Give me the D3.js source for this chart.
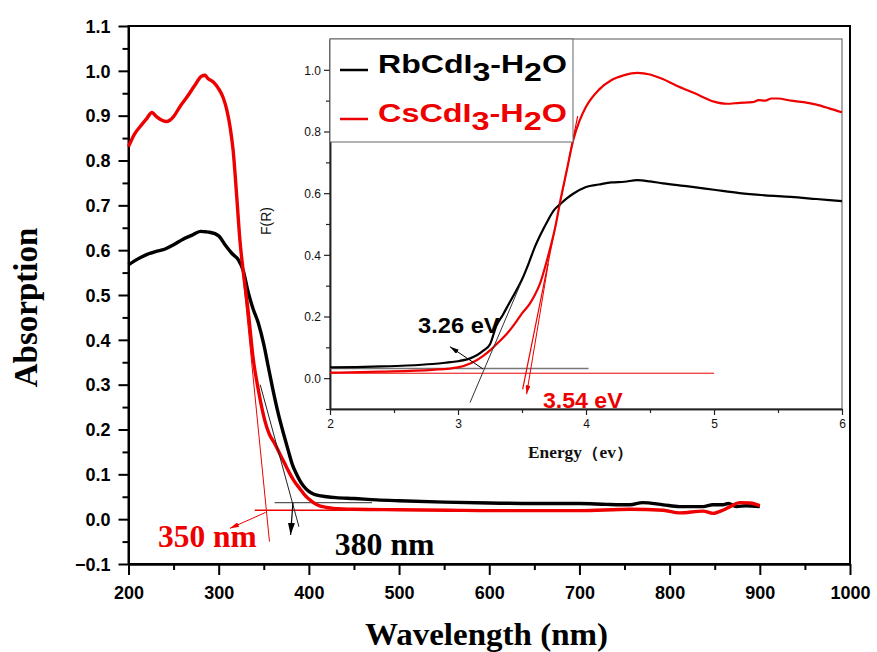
<!DOCTYPE html>
<html><head><meta charset="utf-8">
<script src="https://cdn.jsdelivr.net/npm/d3@7"></script>
<style>body{margin:0;background:#fff}svg{display:block}</style>
</head><body>
<svg id="chart" width="877" height="652"></svg>
<script>
// ---------------- DATA ----------------
const rbWavelength = [200,210,220,230,240,250,260,270,280,285,290,300,307,315,322,327,333,338,344,350,355,360,366,372,377,382,386,390,394,400,405,410,420,430,450,475,500,550,600,650,700,730,756,770,793,811,837,848,859,865,874,885,900];
const rbAbs = [0.567,0.580,0.590,0.597,0.602,0.612,0.624,0.633,0.642,0.641,0.640,0.632,0.612,0.592,0.578,0.556,0.504,0.47,0.437,0.39,0.34,0.29,0.236,0.19,0.154,0.12,0.102,0.086,0.074,0.062,0.056,0.053,0.050,0.048,0.046,0.043,0.041,0.038,0.036,0.035,0.035,0.033,0.032,0.037,0.032,0.028,0.028,0.032,0.032,0.035,0.028,0.030,0.028];
const csWavelength = [200,207,213,220,226,231,236,242,250,257,265,273,281,285,288,294,300,305,309,313,316,320,323.5,327,333,338,344,351,356,362,368,373,378,383,390,395,400,409,420,427,450,500,556,600,650,700,756,793,811,837,848,859,867,878,889,900];
const csAbs = [0.831,0.860,0.876,0.893,0.907,0.898,0.891,0.887,0.898,0.920,0.942,0.966,0.988,0.990,0.983,0.975,0.960,0.940,0.913,0.870,0.823,0.72,0.623,0.556,0.459,0.362,0.288,0.221,0.19,0.169,0.145,0.125,0.105,0.087,0.068,0.055,0.045,0.032,0.026,0.024,0.022,0.021,0.020,0.019,0.019,0.019,0.022,0.020,0.014,0.018,0.013,0.020,0.028,0.037,0.036,0.030];

const rbEnergy = [2.0,2.2,2.4,2.6,2.8,2.9,3.0,3.1,3.15,3.2,3.25,3.3,3.35,3.4,3.45,3.5,3.55,3.6,3.65,3.7,3.75,3.8,3.85,3.9,4.0,4.1,4.2,4.3,4.4,4.5,4.6,4.8,5.0,5.2,5.4,5.6,5.8,6.0];
const rbFR = [0.035,0.036,0.038,0.041,0.046,0.050,0.055,0.065,0.075,0.090,0.11,0.17,0.205,0.243,0.28,0.32,0.37,0.425,0.47,0.51,0.545,0.565,0.583,0.598,0.62,0.628,0.635,0.637,0.642,0.638,0.632,0.622,0.611,0.600,0.593,0.588,0.581,0.574];
const csEnergy = [2.0,2.4,2.8,3.0,3.1,3.2,3.25,3.3,3.38,3.45,3.5,3.56,3.6,3.64,3.7,3.76,3.8,3.85,3.9,3.95,4.0,4.1,4.2,4.3,4.4,4.5,4.6,4.7,4.85,5.0,5.1,5.2,5.3,5.35,5.4,5.45,5.5,5.6,5.7,5.8,5.9,6.0];
const csFR = [0.018,0.021,0.027,0.035,0.048,0.073,0.09,0.11,0.143,0.18,0.21,0.241,0.27,0.306,0.39,0.49,0.577,0.674,0.772,0.835,0.88,0.935,0.967,0.983,0.99,0.985,0.97,0.95,0.924,0.897,0.89,0.893,0.895,0.902,0.90,0.907,0.907,0.90,0.895,0.887,0.875,0.862];

const mainXTicks = [200,300,400,500,600,700,800,900,1000];
const mainYTicks = [-0.1,0.0,0.1,0.2,0.3,0.4,0.5,0.6,0.7,0.8,0.9,1.0,1.1];
const insetXTicks = [2,3,4,5,6];
const insetYTicks = [0.0,0.2,0.4,0.6,0.8,1.0];
const seriesNames = ["RbCdI3-H2O","CsCdI3-H2O"];
const seriesColors = ["#000000","#ee0000"];

// tangent / baseline construction lines (data units)
const mainRedBase = [[340,0.020],[480,0.020]];
const mainRedTangent = [[323.2,0.62],[356.3,-0.05]];
const mainRedArrow = [[352,0.015],[312.5,-0.0205]];
const mainBlackBase = [[362,0.0367],[470,0.0367]];
const mainBlackTangent = [[346,0.30],[389,-0.017]];
const mainBlackArrow = [[382.3,0.0367],[379.7,-0.035]];
const insetGrayBase = [[2,0.031],[4.02,0.031]];
const insetRedBase = [[2,0.016],[5.0,0.016]];
const insetBlackTangent = [[3.094,-0.079],[3.49,0.307]];
const insetRedTangent = [[3.505,-0.036],[3.935,0.85]];
const insetRedArrow = [[3.705,0.371],[3.536,-0.052]];
const insetBlackArrow = [[3.195,0.030],[2.9375,0.102]];

// ---------------- DRAW ----------------
const svg = d3.select("#chart");
const SANS = "'Liberation Sans', Arial, sans-serif";
const SERIF = "'Liberation Serif', 'Times New Roman', serif";

const defs = svg.append("defs");
function marker(id, color, w, h){
  defs.append("marker").attr("id",id).attr("viewBox",`0 0 ${w} ${h}`)
    .attr("refX",w).attr("refY",h/2).attr("markerWidth",w).attr("markerHeight",h)
    .attr("markerUnits","userSpaceOnUse").attr("orient","auto")
    .append("path").attr("d",`M0,0L${w},${h/2}L0,${h}Z`).attr("fill",color);
}
marker("arrBlackBig","#000",12,7);
marker("arrBlack","#000",9,5);
marker("arrRed","#ee0000",9,5);

// main scales
const x = d3.scaleLinear().domain([200,1000]).range([128.5,850]);
const y = d3.scaleLinear().domain([-0.1,1.1]).range([564,26]);

// frame
svg.append("rect").attr("x",x(200)).attr("y",y(1.1)).attr("width",x(1000)-x(200)).attr("height",y(-0.1)-y(1.1))
  .attr("fill","none").attr("stroke","#000").attr("stroke-width",2);

// main axes
const gx = svg.append("g").attr("transform",`translate(0,${y(-0.1)})`)
  .call(d3.axisBottom(x).tickValues(mainXTicks).tickFormat(d3.format("d")).tickSize(11).tickSizeOuter(0));
const gxm = svg.append("g").attr("transform",`translate(0,${y(-0.1)})`)
  .call(d3.axisBottom(x).tickValues(d3.range(250,1000,100)).tickFormat("").tickSize(6).tickSizeOuter(0));
const gy = svg.append("g").attr("transform",`translate(${x(200)},0)`)
  .call(d3.axisLeft(y).tickValues(mainYTicks).tickFormat(d3.format(".1f")).tickSize(10).tickSizeOuter(0));
const gym = svg.append("g").attr("transform",`translate(${x(200)},0)`)
  .call(d3.axisLeft(y).tickValues(d3.range(-0.05,1.1,0.1)).tickFormat("").tickSize(6).tickSizeOuter(0));
[gx,gxm,gy,gym].forEach(g=>{g.select(".domain").attr("stroke","#000").attr("stroke-width",2);
  g.selectAll(".tick line").attr("stroke","#000").attr("stroke-width",2);});
gx.selectAll("text").attr("font-family",SANS).attr("font-weight","bold").attr("font-size",18).attr("fill","#000").attr("y",22).attr("dy","0.71em");
gy.selectAll("text").attr("font-family",SANS).attr("font-weight","bold").attr("font-size",18).attr("fill","#000").attr("x",-18).attr("dy","0.35em");

// fit helper
function fit(sel, w){
  const bb = sel.node().getBBox();
  const s = w / bb.width;
  const tx = +sel.attr("x"), ty = +sel.attr("y");
  sel.attr("x",0).attr("y",0).attr("transform",`translate(${tx},${ty}) scale(${s},1)`);
}

// axis titles
const xt = svg.append("text").attr("x",486.5).attr("y",645).attr("text-anchor","middle")
  .attr("font-family",SERIF).attr("font-weight","bold").attr("font-size",32).text("Wavelength (nm)");
fit(xt,243);
svg.append("text").attr("transform","translate(37,307.5) rotate(-90)").attr("text-anchor","middle")
  .attr("font-family",SERIF).attr("font-weight","bold").attr("font-size",33).text("Absorption");

// ---------------- INSET ----------------
const ix = d3.scaleLinear().domain([2,6]).range([330,842]);
const iy = d3.scaleLinear().domain([-0.1,1.1]).range([409,39]);

svg.append("rect").attr("x",ix(2)).attr("y",iy(1.1)).attr("width",ix(6)-ix(2)).attr("height",iy(-0.1)-iy(1.1))
  .attr("fill","#fff").attr("stroke","#555").attr("stroke-width",1);

const igx = svg.append("g").attr("transform",`translate(0,${iy(-0.1)})`)
  .call(d3.axisBottom(ix).tickValues(insetXTicks).tickFormat(d3.format("d")).tickSize(6).tickSizeOuter(0));
const igxm = svg.append("g").attr("transform",`translate(0,${iy(-0.1)})`)
  .call(d3.axisBottom(ix).tickValues([2.5,3.5,4.5,5.5]).tickFormat("").tickSize(4).tickSizeOuter(0));
const igy = svg.append("g").attr("transform",`translate(${ix(2)},0)`)
  .call(d3.axisLeft(iy).tickValues(insetYTicks).tickFormat(d3.format(".1f")).tickSize(6).tickSizeOuter(0));
const igym = svg.append("g").attr("transform",`translate(${ix(2)},0)`)
  .call(d3.axisLeft(iy).tickValues([-0.1,0.1,0.3,0.5,0.7,0.9]).tickFormat("").tickSize(4).tickSizeOuter(0));
[igx,igxm,igy,igym].forEach(g=>{g.select(".domain").attr("stroke","#222").attr("stroke-width",1.5);
  g.selectAll(".tick line").attr("stroke","#222").attr("stroke-width",1.2);});
igx.selectAll("text").attr("font-family",SANS).attr("font-size",12).attr("fill","#111").attr("y",10).attr("dy","0.71em");
igy.selectAll("text").attr("font-family",SANS).attr("font-size",12).attr("fill","#111").attr("x",-9).attr("dy","0.35em");

const et = svg.append("text").attr("x",528).attr("y",458)
  .attr("font-family",SERIF).attr("font-weight","bold").attr("font-size",16).attr("fill","#111").text("Energy（ev）");
fit(et,105);
svg.append("text").attr("transform","translate(271,221) rotate(-90)").attr("text-anchor","middle")
  .attr("font-family",SANS).attr("font-size",14).attr("fill","#111").text("F(R)");

// inset lines
const iline = d3.line().x(d=>ix(d[0])).y(d=>iy(d[1]));
const ilineS = d3.line().x(d=>ix(d[0])).y(d=>iy(d[1])).curve(d3.curveMonotoneX);
function drawI(arr, color, w, mk, smooth){
  const p = svg.append("path").datum(arr).attr("d",smooth?ilineS:iline).attr("fill","none").attr("stroke",color).attr("stroke-width",w);
  if(mk) p.attr("marker-end",`url(#${mk})`);
}
drawI(insetGrayBase,"#777",1.5);
drawI(insetRedBase,"#ee0000",1);
drawI(d3.zip(csEnergy,csFR),"#ee0000",2.2,null,true);
drawI(d3.zip(rbEnergy,rbFR),"#000",2.2,null,true);
drawI(insetBlackTangent,"#333",1);
drawI(insetRedTangent,"#ee0000",1.2);
drawI(insetRedArrow,"#ee0000",1,"arrRed");
drawI(insetBlackArrow,"#000",1,"arrBlack");

const t326 = svg.append("text").attr("x",ix(2.6875)).attr("y",iy(0.147)).attr("font-family",SANS).attr("font-weight","bold")
  .attr("font-size",22).attr("fill","#000").text("3.26 eV");
fit(t326,82);
const t354 = svg.append("text").attr("x",ix(3.664)).attr("y",iy(-0.0966)).attr("font-family",SANS).attr("font-weight","bold")
  .attr("font-size",22).attr("fill","#ee0000").text("3.54 eV");
fit(t354,80);

// legend
svg.append("rect").attr("x",ix(2)).attr("y",iy(1.1)).attr("width",243).attr("height",103)
  .attr("fill","#fff").attr("stroke","#666").attr("stroke-width",1);
const legRows = [{name:seriesNames[0],color:seriesColors[0],ly:70,ty:73},{name:seriesNames[1],color:seriesColors[1],ly:119,ty:122}];
legRows.forEach(r=>{
  svg.append("line").attr("x1",340).attr("x2",368).attr("y1",r.ly).attr("y2",r.ly).attr("stroke",r.color).attr("stroke-width",2.5);
  const m = r.name.match(/^(.*)(3)(-H)(2)(O)$/);
  const t = svg.append("text").attr("x",378).attr("y",r.ty).attr("font-family",SANS).attr("font-weight","bold")
    .attr("font-size",25).attr("fill",r.color);
  t.append("tspan").text(m[1]);
  t.append("tspan").attr("dy",8).text(m[2]);
  t.append("tspan").attr("dy",-8).text(m[3]);
  t.append("tspan").attr("dy",8).text(m[4]);
  t.append("tspan").attr("dy",-8).text(m[5]);
  fit(t,189);
});

// ---------------- MAIN CURVES ----------------
const mline = d3.line().x(d=>x(d[0])).y(d=>y(d[1]));
const mlineS = d3.line().x(d=>x(d[0])).y(d=>y(d[1])).curve(d3.curveMonotoneX);
function drawM(arr, color, w, mk, smooth){
  const p = svg.append("path").datum(arr).attr("d",smooth?mlineS:mline).attr("fill","none").attr("stroke",color).attr("stroke-width",w);
  if(mk) p.attr("marker-end",`url(#${mk})`);
}
drawM(mainBlackBase,"#555",1.2);
drawM(mainRedBase,"#ee0000",1.5);
drawM(d3.zip(rbWavelength,rbAbs),"#000",3.4,null,true);
drawM(d3.zip(csWavelength,csAbs),"#ee0000",3.4,null,true);
drawM(mainRedTangent,"#ee0000",1);
drawM(mainBlackTangent,"#222",1);
drawM(mainRedArrow,"#ee0000",1,"arrRed");
drawM(mainBlackArrow,"#000",1.2,"arrBlackBig");

const t350 = svg.append("text").attr("x",x(232.7)).attr("y",y(-0.0628)).attr("font-family",SERIF).attr("font-weight","bold")
  .attr("font-size",32).attr("fill","#ee0000").text("350 nm");
fit(t350,99);
const t380 = svg.append("text").attr("x",x(428.8)).attr("y",y(-0.08)).attr("font-family",SERIF).attr("font-weight","bold")
  .attr("font-size",32).attr("fill","#000").text("380 nm");
fit(t380,100);
</script>
</body></html>
